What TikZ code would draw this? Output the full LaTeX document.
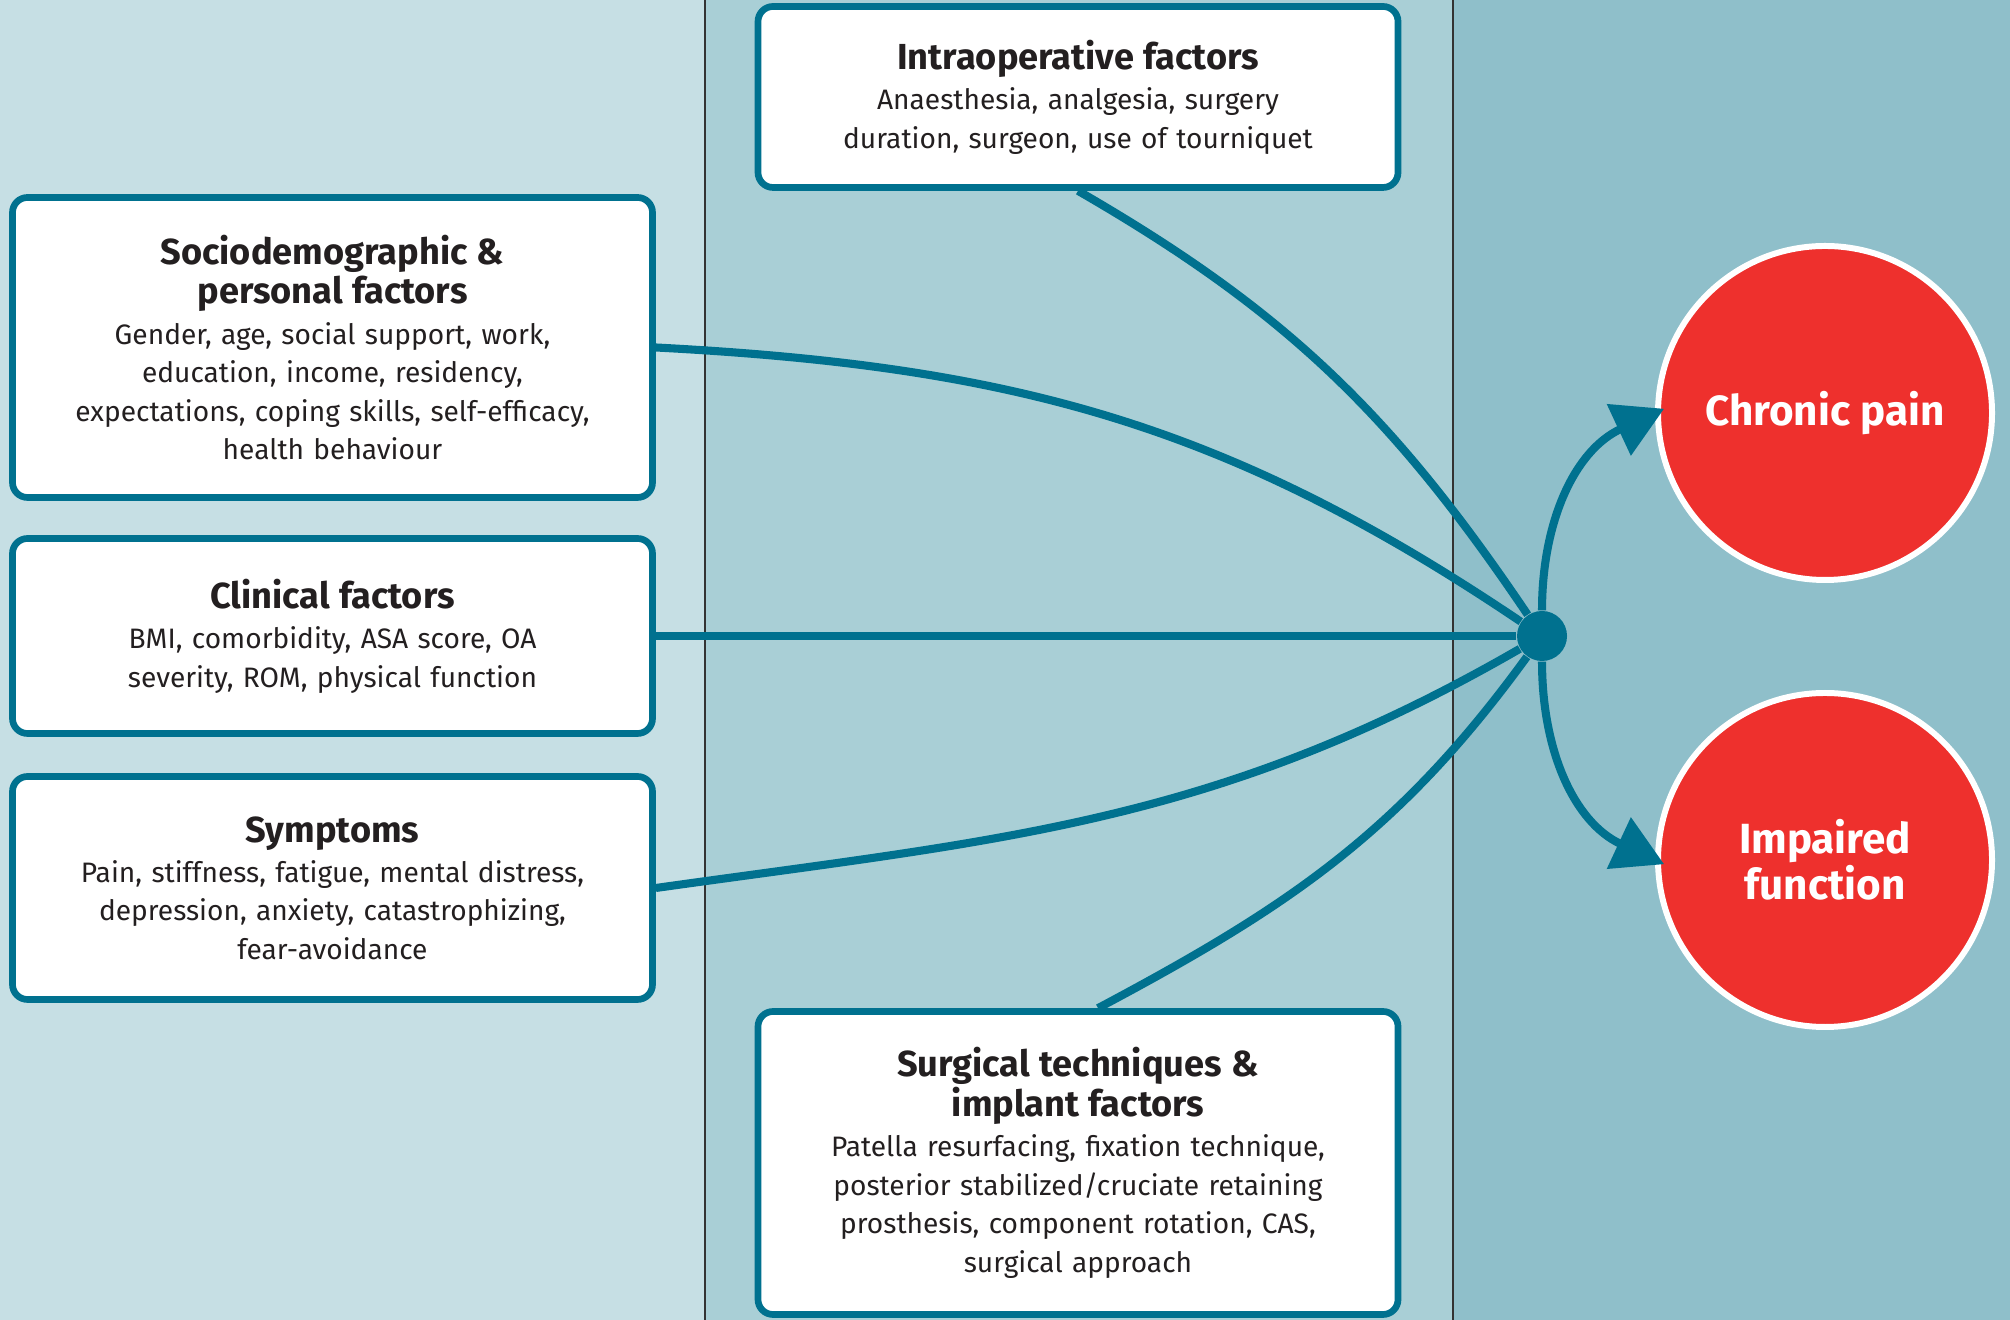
\documentclass[tikz,border=0pt]{standalone}
\usepackage{fontspec}
\setmainfont{Fira Sans}
\usepackage{xcolor}
\usepackage{tikz}
\usetikzlibrary{arrows.meta}

\definecolor{paneA}{HTML}{C6DFE4}
\definecolor{paneB}{HTML}{A9CFD6}
\definecolor{paneC}{HTML}{8FBFCA}
\definecolor{linkteal}{HTML}{00718F}
\definecolor{outred}{HTML}{EE302D}
\definecolor{inktext}{HTML}{231F20}

\newcommand{\boxhead}[1]{{\fontsize{10.3}{11.3}\selectfont\bfseries #1\par}\vspace{0.5pt}}

\tikzset{
	factor/.style={draw=linkteal, line width=1.9pt, fill=white, rounded corners=0.15cm,
		inner sep=0pt, text width=6.4cm, align=center, text=inktext,
		font=\fontsize{8}{10.95}\selectfont},
	outcome/.style={circle, draw=white, line width=1.7pt, fill=outred, minimum size=3.34cm,
		text=white, align=center, font=\fontsize{12}{13}\selectfont\bfseries},
	link/.style={draw=linkteal, line width=2.3pt},
	hub/.style={circle, fill=linkteal, inner sep=0pt, minimum size=0.5cm}
}

\begin{document}
\begin{tikzpicture}
\useasboundingbox (0,0) rectangle (20.1,13.2);

% three panels
\fill[paneA] (0,0) rectangle (7.05,13.2);
\fill[paneB] (7.05,0) rectangle (14.53,13.2);
\fill[paneC] (14.53,0) rectangle (20.1,13.2);
\foreach \x in {7.05,14.53}
\draw[line width=0.6pt, black!80] (\x,0) -- (\x,13.2);

% factor boxes
\node[factor, minimum height=3.0cm] (socio) at (3.325,9.725)
	{\boxhead{Sociodemographic \&\\ personal factors}
	Gender, age, social support, work,\\ education, income, residency,\\
	expectations, coping skills, self-efficacy,\\ health behaviour};
\node[factor, minimum height=1.95cm] (clinical) at (3.325,6.84)
	{\boxhead{Clinical factors}
	BMI, comorbidity, ASA score, OA\\ severity, ROM, physical function};
\node[factor, minimum height=2.23cm] (symptoms) at (3.325,4.32)
	{\boxhead{Symptoms}
	Pain, stiffness, fatigue, mental distress,\\ depression, anxiety, catastrophizing,\\ fear-avoidance};
\node[factor, minimum height=1.81cm] (intraop) at (10.78,12.23)
	{\boxhead{Intraoperative factors}
	Anaesthesia, analgesia, surgery\\ duration, surgeon, use of tourniquet};
\node[factor, minimum height=3.03cm] (surgical) at (10.78,1.57)
	{\boxhead{Surgical techniques \&\\ implant factors}
	Patella resurfacing, fixation technique,\\ posterior stabilized/cruciate retaining\\
	prosthesis, component rotation, CAS,\\ surgical approach};

% outcomes
\node[hub] (hub) at (15.42,6.84) {};
\node[outcome] (pain) at (18.25,9.07) {Chronic pain};
\node[outcome] (function) at (18.25,4.60) {Impaired\\ function};

\draw[link] (socio.east) to[out=-3,in=146] (hub);
\draw[link] (clinical.east) -- (hub);
\draw[link] (symptoms.east) to[out=8,in=210] (hub);
\draw[link] (intraop.south) to[out=-30,in=124] (hub);
\draw[link] ([xshift=0.2cm]surgical.north) to[out=28,in=234] (hub);

\draw[link, shorten >=-0.1cm, -{Triangle[length=0.5cm,width=0.55cm]}] (hub) to[out=90,in=205] (pain.west);
\draw[link, shorten >=-0.1cm, -{Triangle[length=0.5cm,width=0.55cm]}] (hub) to[out=-90,in=155] (function.west);

\end{tikzpicture}
\end{document}
